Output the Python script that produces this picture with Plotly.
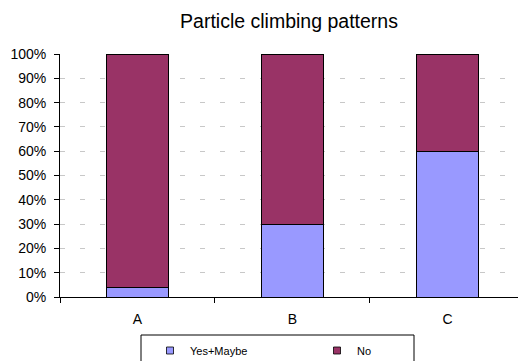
import plotly.graph_objects as go

categories = ["A", "B", "C"]
yes_maybe = [0.04, 0.30, 0.60]
no = [0.96, 0.70, 0.40]
y_ticks = [0, 0.1, 0.2, 0.3, 0.4, 0.5, 0.6, 0.7, 0.8, 0.9, 1.0]
y_tick_labels = ["0%", "10%", "20%", "30%", "40%", "50%", "60%", "70%", "80%", "90%", "100%"]

c_yes = "#9999FF"
c_no = "#993366"

W, H = 518, 361
ML, MR, MT, MB = 60, 0, 54, 64
PW, PH = W - ML - MR, H - MT - MB

fig = go.Figure()
fig.add_trace(go.Bar(x=categories, y=yes_maybe, name="Yes+Maybe", marker=dict(color=c_yes, line=dict(color="black", width=1)),
                     width=0.4, showlegend=False))
fig.add_trace(go.Bar(x=categories, y=no, name="No", marker=dict(color=c_no, line=dict(color="black", width=1)),
                     width=0.4, showlegend=False))
# legend entries
fig.add_trace(go.Scatter(x=[None], y=[None], mode="markers", name="Yes+Maybe",
                         marker=dict(symbol="square", size=7, color=c_yes, line=dict(color="black", width=0.8))))
fig.add_trace(go.Scatter(x=[None], y=[None], mode="markers", name="No",
                         marker=dict(symbol="square", size=7, color=c_no, line=dict(color="black", width=0.8))))

# legend frame
fig.add_shape(type="rect", xref="paper", yref="paper",
              x0=(141 - ML) / PW, x1=(414 - ML) / PW, y0=(MT + PH - 335) / PH, y1=(MT + PH - 370) / PH,
              line=dict(color="black", width=1), fillcolor="rgba(0,0,0,0)")

fig.update_layout(
    barmode="stack",
    width=W, height=H,
    margin=dict(l=ML, r=MR, t=MT, b=MB),
    plot_bgcolor="white", paper_bgcolor="white",
    font=dict(family="Liberation Sans, Arial, sans-serif", color="black", size=14),
    title=dict(text="Particle climbing patterns", x=0.5, xref="paper", xanchor="center", y=1 - 21/361, yanchor="middle",
               font=dict(size=19.5)),
    xaxis=dict(type="category", range=[-0.5, 2.455], showline=True, linecolor="black", linewidth=1,
               tickson="boundaries", ticks="outside", ticklen=5, tickcolor="black", showgrid=False,
               tickfont=dict(size=14), ticklabelstandoff=9),
    yaxis=dict(range=[0, 1], tickvals=y_ticks, ticktext=y_tick_labels, showline=True, linecolor="black", linewidth=1,
               ticks="outside", ticklen=5, tickcolor="black", showgrid=True, gridcolor="#c8c8c8", griddash="5px,15px",
               gridwidth=1, zeroline=False, tickfont=dict(size=14), ticklabelstandoff=5),
    legend=dict(orientation="h", xref="container", x=150/518, xanchor="left", yref="container", y=1 - 336/361, yanchor="top",
                borderwidth=0, entrywidth=122, traceorder="normal", font=dict(size=11), bgcolor="rgba(0,0,0,0)"),
)
fig.write_html("out.html")
